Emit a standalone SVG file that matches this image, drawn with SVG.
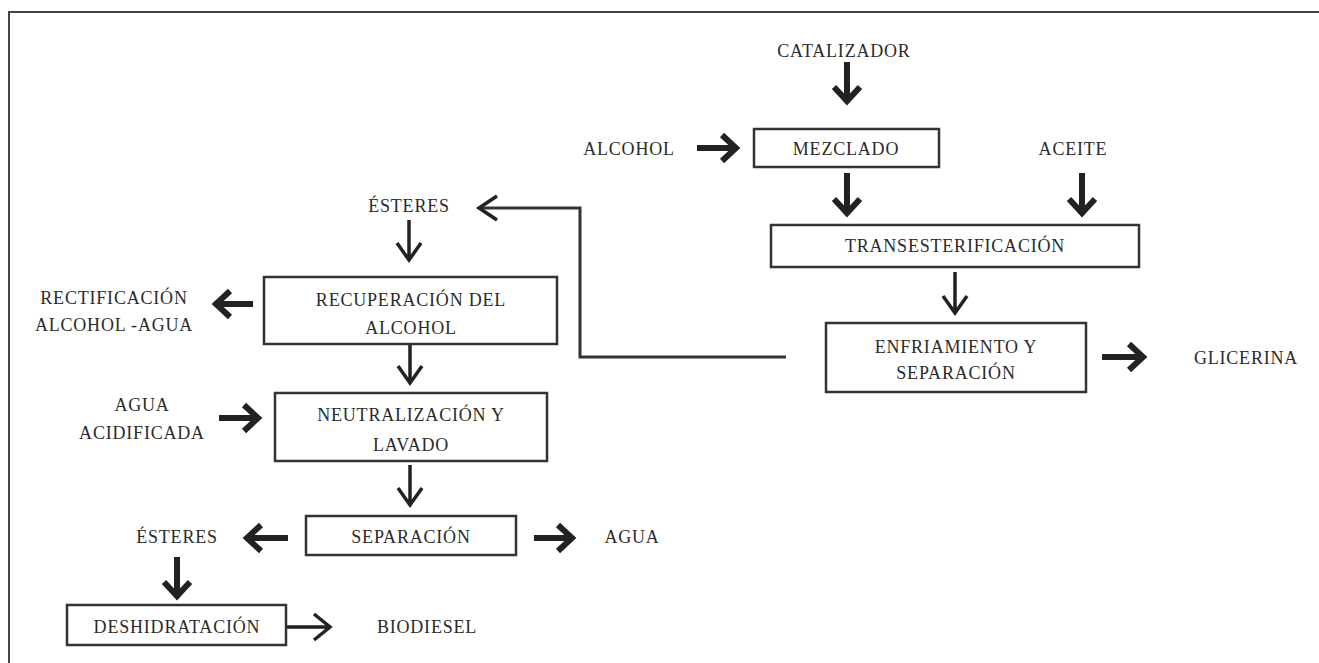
<svg xmlns="http://www.w3.org/2000/svg" width="1319" height="663" viewBox="0 0 1319 663">
<style>
text{font-family:"Liberation Serif","Times New Roman",serif;font-size:18px;fill:#2b2b2b;text-anchor:middle;letter-spacing:0.8px}
.box{fill:#fff;stroke:#333;stroke-width:2.5}
.thick{fill:none;stroke:#222;stroke-width:6;stroke-linejoin:miter;stroke-miterlimit:10}
.thin{fill:none;stroke:#222;stroke-width:3.5;stroke-linejoin:miter;stroke-miterlimit:10}
.line{fill:none;stroke:#333;stroke-width:3}
</style>
<rect width="1319" height="663" fill="#fff"/>
<path d="M9,663 V12 H1319" fill="none" stroke="#444" stroke-width="2"/>

<g id="connectors">
  <path class="thick" d="M847,62 V101 M834,87 L847,101 L860,87"/>
  <path class="thick" d="M697,148 H736 M722,135 L736,148 L722,161"/>
  <path class="thick" d="M847,173 V213 M834,199 L847,213 L860,199"/>
  <path class="thick" d="M1082,173 V213 M1069,199 L1082,213 L1095,199"/>
  <path class="thin" d="M955,272 V313 M943,296 L955,313 L967,296"/>
  <path class="thick" d="M1102,357 H1143 M1129,344 L1143,357 L1129,370"/>
  <path class="line" d="M786,357 H580 V208 H480"/>
  <path class="thin" d="M497,196 L479,208 L497,220"/>
  <path class="thin" d="M409,220 V260 M397,243 L409,260 L421,243"/>
  <path class="thick" d="M253,304 H216 M230,291 L216,304 L230,317"/>
  <path class="thin" d="M410,344 V383 M398,366 L410,383 L422,366"/>
  <path class="thick" d="M219,418 H258 M244,405 L258,418 L244,431"/>
  <path class="thin" d="M410,465 V505 M398,488 L410,505 L422,488"/>
  <path class="thick" d="M288,538 H247 M261,525 L247,538 L261,551"/>
  <path class="thick" d="M534,538 H572 M558,525 L572,538 L558,551"/>
  <path class="thick" d="M177,557 V596 M164,582 L177,596 L190,582"/>
  <path class="thin" d="M287,627 H330 M314,614 L330,627 L314,640"/>
</g>

<g id="catalizador"><text x="844" y="57">CATALIZADOR</text></g>
<g id="alcohol"><text x="629" y="155">ALCOHOL</text></g>
<g id="mezclado"><rect class="box" x="754" y="129" width="185" height="38"/><text x="846" y="155">MEZCLADO</text></g>
<g id="aceite"><text x="1073" y="155">ACEITE</text></g>
<g id="transesterificacion"><rect class="box" x="771" y="225" width="368" height="42"/><text x="955" y="252">TRANSESTERIFICACIÓN</text></g>
<g id="enfriamiento"><rect class="box" x="826" y="323" width="260" height="69"/><text x="956" y="353">ENFRIAMIENTO Y</text><text x="956" y="379">SEPARACIÓN</text></g>
<g id="glicerina"><text x="1246" y="364">GLICERINA</text></g>
<g id="esteres1"><text x="409" y="212">ÉSTERES</text></g>
<g id="recuperacion"><rect class="box" x="264" y="277" width="293" height="67"/><text x="411" y="306">RECUPERACIÓN DEL</text><text x="411" y="334">ALCOHOL</text></g>
<g id="rectificacion"><text x="114" y="304">RECTIFICACIÓN</text><text x="114" y="331">ALCOHOL -AGUA</text></g>
<g id="agua-acidificada"><text x="142" y="411">AGUA</text><text x="142" y="439">ACIDIFICADA</text></g>
<g id="neutralizacion"><rect class="box" x="275" y="393" width="272" height="68"/><text x="411" y="421">NEUTRALIZACIÓN Y</text><text x="411" y="451">LAVADO</text></g>
<g id="separacion"><rect class="box" x="306" y="516" width="210" height="39"/><text x="411" y="543">SEPARACIÓN</text></g>
<g id="agua"><text x="632" y="543">AGUA</text></g>
<g id="esteres2"><text x="177" y="543">ÉSTERES</text></g>
<g id="deshidratacion"><rect class="box" x="67" y="605" width="219" height="40"/><text x="177" y="633">DESHIDRATACIÓN</text></g>
<g id="biodiesel"><text x="427" y="633">BIODIESEL</text></g>
</svg>
